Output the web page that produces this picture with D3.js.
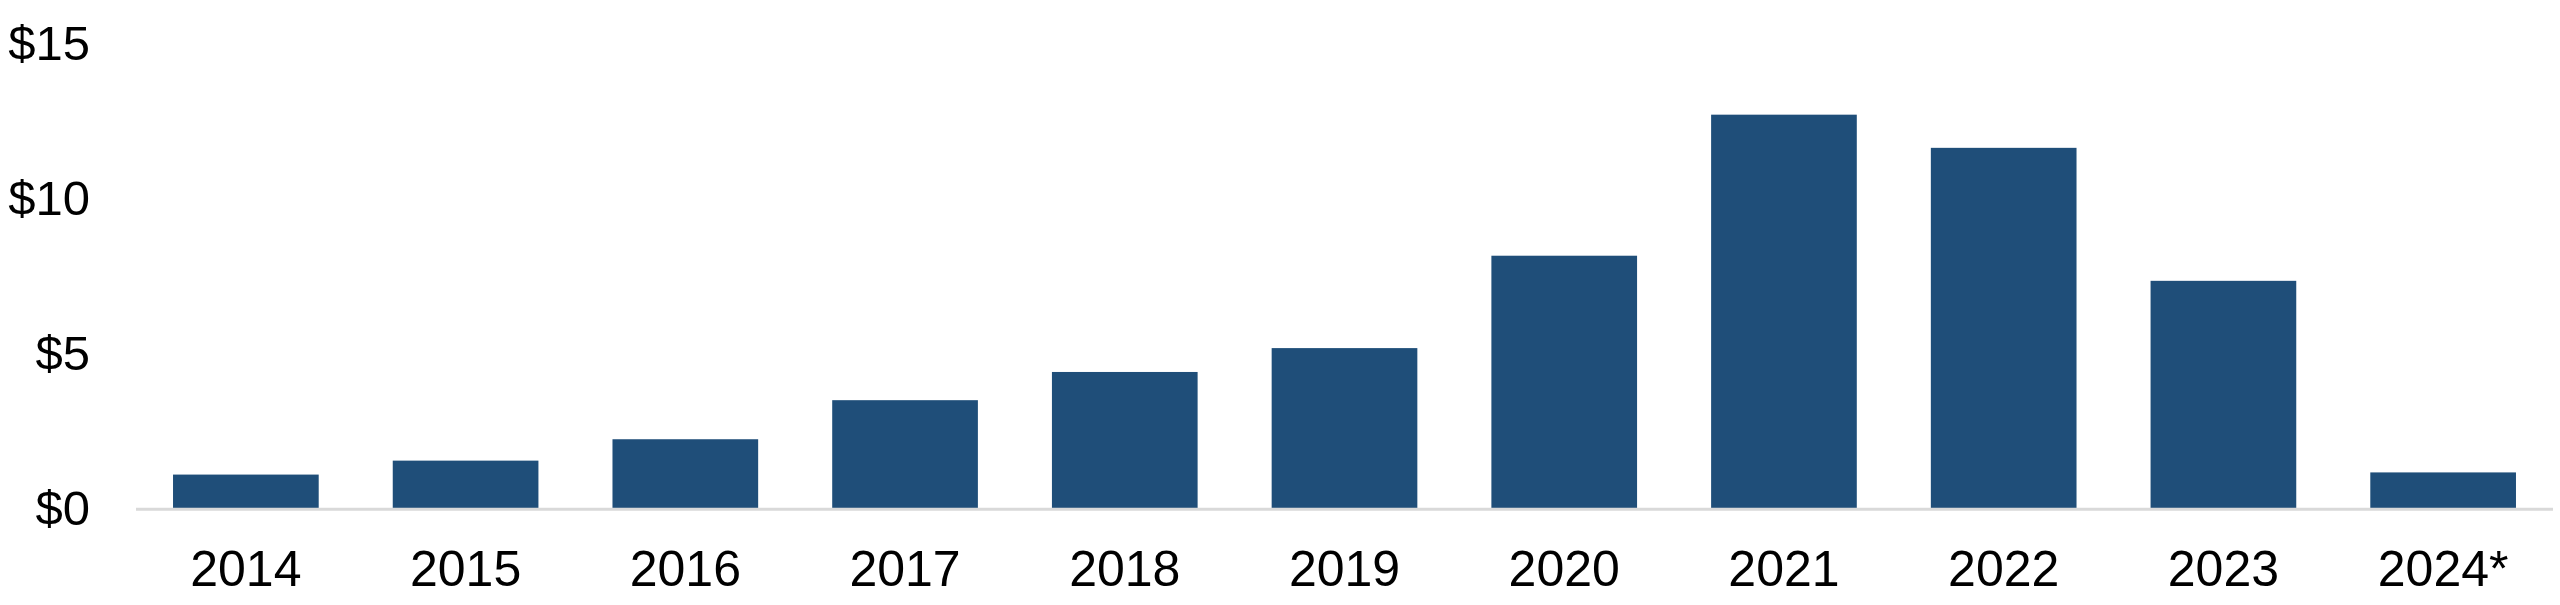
<!DOCTYPE html>
<html>
<head>
<meta charset="utf-8">
<script src="https://cdn.jsdelivr.net/npm/d3@7"></script>
<style>
  html, body { margin: 0; padding: 0; background: #ffffff; }
  svg { display: block; }
  text { font-family: "Liberation Sans", Arial, sans-serif; fill: #000; }
</style>
</head>
<body>
<svg id="chart" width="2560" height="605"></svg>
<script>
const categories = ["2014", "2015", "2016", "2017", "2018", "2019", "2020", "2021", "2022", "2023", "2024*"];
const values = [1.12, 1.57, 2.26, 3.52, 4.43, 5.20, 8.18, 12.73, 11.66, 7.37, 1.19];
const yTicks = [0, 5, 10, 15];

const svg = d3.select("#chart");
const W = 2560, H = 605;
const left = 136, right = 2553, baseY = 509.3, topY = 44.3;

const x = d3.scaleBand()
  .domain(categories)
  .range([left, right])
  .paddingInner(0.337)
  .paddingOuter(0.1685);

const y = d3.scaleLinear()
  .domain([0, 15])
  .range([baseY, topY]);

// bars
svg.append("g")
  .selectAll("rect")
  .data(values)
  .join("rect")
  .attr("x", (d, i) => x(categories[i]))
  .attr("y", d => y(d))
  .attr("width", x.bandwidth())
  .attr("height", d => y(0) - y(d))
  .attr("fill", "#1F4E79");

// baseline
svg.append("line")
  .attr("x1", left).attr("x2", right)
  .attr("y1", y(0)).attr("y2", y(0))
  .attr("stroke", "#d9d9d9")
  .attr("stroke-width", 3);

// y axis
const yAxis = d3.axisLeft(y)
  .tickValues(yTicks)
  .tickFormat(d => "$" + d)
  .tickSize(0)
  .tickPadding(0);

const gy = svg.append("g")
  .attr("transform", "translate(90,0)")
  .call(yAxis);
gy.select(".domain").remove();
gy.selectAll("text")
  .attr("x", 0)
  .attr("dy", null)
  .attr("y", 15)
  .attr("text-anchor", "end")
  .style("font-family", '"Liberation Sans", Arial, sans-serif')
  .style("font-size", "49px")
  .style("fill", "#000");

// x axis
const xAxis = d3.axisBottom(x)
  .tickSize(0)
  .tickPadding(0);

const gx = svg.append("g")
  .attr("transform", `translate(0,${baseY})`)
  .call(xAxis);
gx.select(".domain").remove();
gx.selectAll("text")
  .attr("dy", null)
  .attr("y", 586 - baseY)
  .style("font-family", '"Liberation Sans", Arial, sans-serif')
  .style("font-size", "50px")
  .style("fill", "#000");
</script>
</body>
</html>
